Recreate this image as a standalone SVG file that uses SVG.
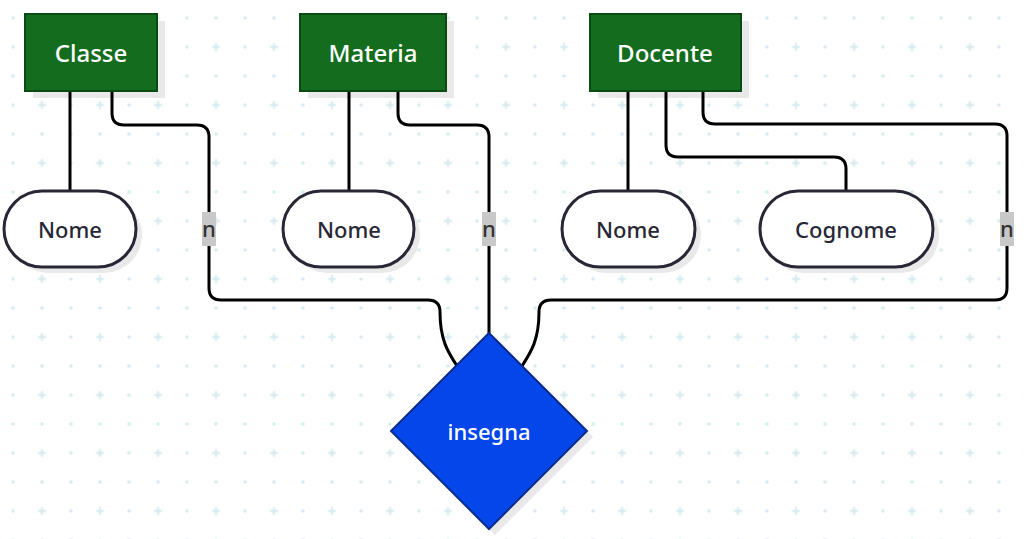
<svg xmlns="http://www.w3.org/2000/svg" width="1024" height="539" viewBox="0 0 1024 539">
<style>
.ent{fill:#146c1e;stroke:#0c4a13;stroke-width:2}
.att{fill:#ffffff;stroke:#272736;stroke-width:3}
.rel{fill:#0446ea;stroke:#0a2c8c;stroke-width:2}
.sh{fill:#e9e9e9}
.et{font-family:"Noto Sans","Open Sans",sans-serif;font-size:24px;font-weight:500;fill:#ffffff;text-anchor:middle;dominant-baseline:central}
.at{font-family:"Noto Sans","Open Sans",sans-serif;font-size:22px;font-weight:500;fill:#272736;text-anchor:middle;dominant-baseline:central}
.rt{font-family:"Noto Sans","Open Sans",sans-serif;font-size:22px;font-weight:500;fill:#ffffff;text-anchor:middle;dominant-baseline:central}
.edge{fill:none;stroke:#000000;stroke-width:3}
.lb{fill:#c8c8c8}
.lt{font-family:"Noto Sans","Open Sans",sans-serif;font-size:22px;font-weight:500;fill:#333333;text-anchor:middle;dominant-baseline:central}
.gp{fill:#d3eaee}
</style>
<defs>
<pattern id="grid" x="-1.5" y="3.5" width="58" height="58" patternUnits="userSpaceOnUse">
<circle class="gp" cx="14.5" cy="14.5" r="1.8"/>
<circle class="gp" cx="43.5" cy="14.5" r="1.8"/>
<circle class="gp" cx="14.5" cy="43.5" r="1.8"/>
<path d="M39.5,43.5 H47.5 M43.5,39.5 V47.5" stroke="#d3eaee" stroke-width="2"/>
</pattern>
</defs>
<rect width="1024" height="539" fill="#ffffff"/>
<rect width="1024" height="539" fill="url(#grid)"/>

<g id="shadows">
<rect class="sh" x="33" y="21" width="132" height="77"/>
<rect class="sh" x="308" y="21" width="146" height="77"/>
<rect class="sh" x="598" y="21" width="151" height="77"/>
<rect class="sh" x="10" y="197" width="132" height="76" rx="38"/>
<rect class="sh" x="289" y="197" width="131" height="76" rx="38"/>
<rect class="sh" x="568" y="197" width="133" height="76" rx="38"/>
<rect class="sh" x="766" y="197" width="173" height="76" rx="38"/>
<polygon class="sh" points="495,339 593,437 495,535 397,437"/>
</g>

<g id="connectors">
<path class="edge" d="M70,91 V191"/>
<path class="edge" d="M112,91 V113 Q112,125 124,125 H197 Q209,125 209,137 V288 Q209,300 221,300 H428 Q440,300 440,312 C440,340 448,352 457,366"/>
<path class="edge" d="M349,91 V191"/>
<path class="edge" d="M398,91 V113 Q398,125 410,125 H477 Q489,125 489,137 V334"/>
<path class="edge" d="M628,91 V191"/>
<path class="edge" d="M666,91 V145 Q666,157 678,157 H834 Q846,157 846,169 V191"/>
<path class="edge" d="M703,91 V112 Q703,124 715,124 H995 Q1007,124 1007,136 V288 Q1007,300 995,300 H551 Q539,300 539,312 C539,340 531,352 522,366"/>
<g id="label-n1"><rect class="lb" x="202" y="212" width="14" height="34"/><text class="lt" x="209" y="228">n</text></g>
<g id="label-n2"><rect class="lb" x="482" y="212" width="14" height="34"/><text class="lt" x="489" y="228">n</text></g>
<g id="label-n3"><rect class="lb" x="1000" y="212" width="14" height="34"/><text class="lt" x="1007" y="228">n</text></g>
</g>

<g id="classe">
<rect class="ent" x="25" y="14" width="132" height="77"/>
<text class="et" x="91" y="52">Classe</text>
</g>
<g id="materia">
<rect class="ent" x="300" y="14" width="146" height="77"/>
<text class="et" x="373" y="52">Materia</text>
</g>
<g id="docente">
<rect class="ent" x="590" y="14" width="151" height="77"/>
<text class="et" x="665" y="52">Docente</text>
</g>

<g id="nome-classe">
<rect class="att" x="4" y="191" width="132" height="76" rx="38"/>
<text class="at" x="70" y="229">Nome</text>
</g>
<g id="nome-materia">
<rect class="att" x="283" y="191" width="131" height="76" rx="38"/>
<text class="at" x="349" y="229">Nome</text>
</g>
<g id="nome-docente">
<rect class="att" x="562" y="191" width="133" height="76" rx="38"/>
<text class="at" x="628" y="229">Nome</text>
</g>
<g id="cognome-docente">
<rect class="att" x="760" y="191" width="173" height="76" rx="38"/>
<text class="at" x="846" y="229">Cognome</text>
</g>

<g id="insegna">
<polygon class="rel" points="489,333 587,431 489,529 391,431"/>
<text class="rt" x="489" y="431">insegna</text>
</g>
</svg>
